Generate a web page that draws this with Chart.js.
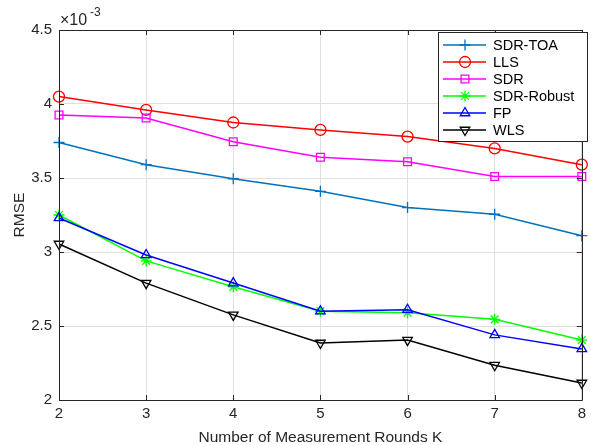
<!DOCTYPE html>
<html>
<head>
<meta charset="utf-8">
<script src="https://cdn.jsdelivr.net/npm/chart.js"></script>
<style>
  html, body { margin: 0; padding: 0; background: #fff; }
  #wrap { width: 591px; height: 445px; }
</style>
</head>
<body>
<div id="wrap"><canvas id="chart" width="591" height="445"></canvas></div>
<script>
// data (RMSE in units of 1e-3)
const rounds = [2, 3, 4, 5, 6, 7, 8]
const sdrToa = [3.74, 3.59, 3.495, 3.41, 3.30, 3.255, 3.11]
const lls = [4.05, 3.96, 3.875, 3.825, 3.78, 3.70, 3.59]
const sdr = [3.926, 3.905, 3.745, 3.64, 3.61, 3.51, 3.51]
const sdrRobust = [3.25, 2.94, 2.765, 2.60, 2.59, 2.545, 2.405]
const fp = [3.23, 2.98, 2.79, 2.60, 2.61, 2.44, 2.345]
const wls = [3.054, 2.79, 2.575, 2.385, 2.405, 2.235, 2.115]
const yTicks = [2, 2.5, 3, 3.5, 4, 4.5]
const yTickLabels = ['2', '2.5', '3', '3.5', '4', '4.5']
const xTicks = [2, 3, 4, 5, 6, 7, 8]

const FONT = '"Liberation Sans", Arial, Helvetica, sans-serif'
const AXIS = '#262626'

function series(label, values, color, style, rotation, order) {
    return {
        label: label,
        data: rounds.map((k, i) => ({ x: k, y: values[i] })),
        borderColor: color,
        backgroundColor: 'rgba(0,0,0,0)',
        pointBorderColor: color,
        pointBackgroundColor: 'rgba(0,0,0,0)',
        pointStyle: style,
        pointRotation: rotation,
        pointRadius: 5.5,
        pointBorderWidth: 1.3,
        borderWidth: 1.5,
        tension: 0,
        clip: false,
        order: order
    }
}

const datasets = [
    series('SDR-TOA', sdrToa, '#0072BD', 'cross', 0, 6),
    series('LLS', lls, '#FF0000', 'circle', 0, 5),
    series('SDR', sdr, '#FF00FF', 'rect', 0, 4),
    series('SDR-Robust', sdrRobust, '#00FF00', 'star', 0, 3),
    series('FP', fp, '#0000FF', 'triangle', 0, 2),
    series('WLS', wls, '#000000', 'triangle', 180, 1)
]

// box, inner tick marks, exponent label and legend (matlab look)
const framePlugin = {
    id: 'frame',
    afterDatasetsDraw(chart) {
        const ctx = chart.ctx
        const a = chart.chartArea
        const xs = chart.scales.x
        const ys = chart.scales.y
        ctx.save()
        ctx.strokeStyle = AXIS
        ctx.lineWidth = 1
        ctx.beginPath()
        ctx.rect(Math.round(a.left) + 0.5, Math.round(a.top) + 0.5,
                 Math.round(a.right - a.left), Math.round(a.bottom - a.top))
        ctx.stroke()
        const t = 5
        ctx.beginPath()
        xTicks.forEach(v => {
            const px = Math.round(xs.getPixelForValue(v)) + 0.5
            ctx.moveTo(px, a.bottom); ctx.lineTo(px, a.bottom - t)
            ctx.moveTo(px, a.top); ctx.lineTo(px, a.top + t)
        })
        yTicks.forEach(v => {
            const py = Math.round(ys.getPixelForValue(v)) + 0.5
            ctx.moveTo(a.left, py); ctx.lineTo(a.left + t, py)
            ctx.moveTo(a.right, py); ctx.lineTo(a.right - t, py)
        })
        ctx.stroke()

        // x10^-3
        ctx.fillStyle = AXIS
        ctx.textBaseline = 'alphabetic'
        ctx.textAlign = 'left'
        ctx.font = '16px ' + FONT
        ctx.fillText('\u00d710', a.left + 1, 25)
        ctx.font = '12px ' + FONT
        ctx.fillText('-3', a.left + 31, 16)

        // legend
        const lx = 438, ly = 32, lw = 149, lh = 109
        ctx.fillStyle = '#ffffff'
        ctx.fillRect(lx, ly, lw, lh)
        ctx.strokeStyle = AXIS
        ctx.lineWidth = 1
        ctx.strokeRect(lx + 0.5, ly + 0.5, lw, lh)
        chart.data.datasets.forEach((ds, i) => {
            const y = 45 + i * 17
            ctx.strokeStyle = ds.borderColor
            ctx.lineWidth = 1.5
            ctx.beginPath()
            ctx.moveTo(443, y); ctx.lineTo(486, y)
            ctx.stroke()
            ctx.lineWidth = 1.3
            ctx.fillStyle = 'rgba(0,0,0,0)'
            Chart.helpers.drawPoint(ctx, {
                pointStyle: ds.pointStyle,
                rotation: ds.pointRotation,
                radius: 5.5,
                borderWidth: 1.3
            }, 465, y)
            ctx.fillStyle = '#000'
            ctx.font = '14.5px ' + FONT
            ctx.textBaseline = 'middle'
            ctx.fillText(ds.label, 493, y + 1)
        })
        ctx.restore()
    }
}

new Chart(document.getElementById('chart'), {
    type: 'line',
    data: { datasets: datasets },
    options: {
        responsive: false,
        animation: false,
        layout: { padding: { top: 30, right: 4, left: 0, bottom: 0 } },
        plugins: { legend: { display: false }, tooltip: { enabled: false } },
        scales: {
            x: {
                type: 'linear',
                min: 2,
                max: 8,
                afterFit: s => { s.height = 45 },
                afterBuildTicks: s => { s.ticks = xTicks.map(v => ({ value: v })) },
                grid: { color: '#dfdfdf', drawTicks: false },
                border: { display: false },
                ticks: { color: AXIS, font: { family: FONT, size: 15 }, padding: 5 },
                title: { display: true, text: 'Number of Measurement Rounds K', color: AXIS,
                         font: { family: FONT, size: 15.5, lineHeight: 1.0 },
                         padding: { top: 0, bottom: 0 } }
            },
            y: {
                min: 2,
                max: 4.5,
                afterFit: s => { s.width = 59 },
                afterBuildTicks: s => { s.ticks = yTicks.map(v => ({ value: v })) },
                grid: { color: '#dfdfdf', drawTicks: false },
                border: { display: false },
                ticks: {
                    color: AXIS, font: { family: FONT, size: 15 }, padding: 7,
                    callback: v => yTickLabels[yTicks.indexOf(v)]
                },
                title: { display: true, text: 'RMSE', color: AXIS,
                         font: { family: FONT, size: 15.5 }, padding: { top: 10, bottom: 0 } }
            }
        }
    },
    plugins: [framePlugin]
})
</script>
</body>
</html>
